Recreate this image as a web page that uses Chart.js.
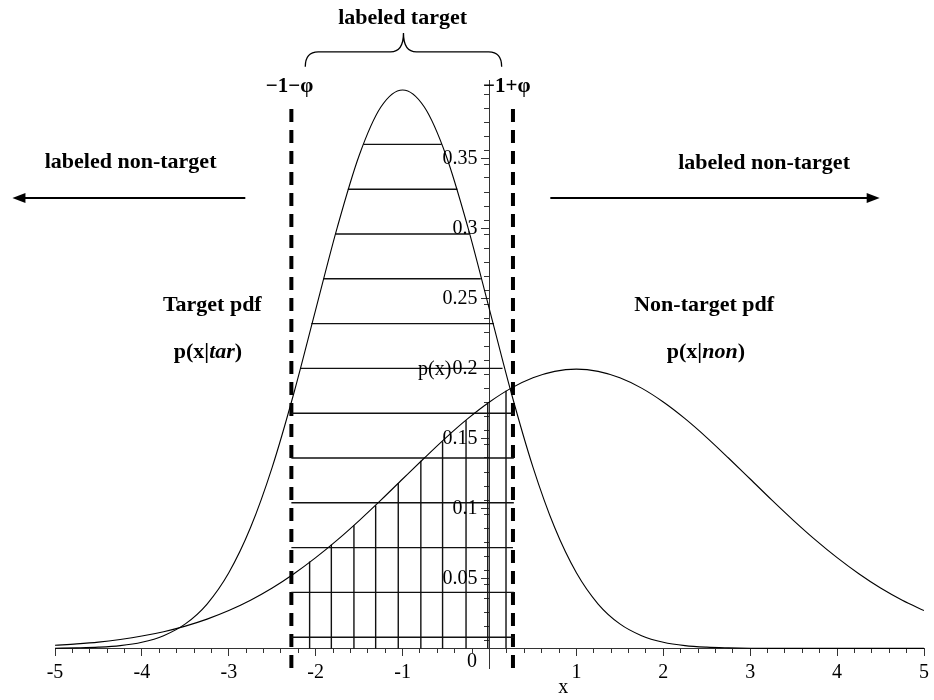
<!DOCTYPE html>
<html lang="en">
<head>
<meta charset="UTF-8" />
<title>Target and non-target pdf</title>
<script src="https://cdn.jsdelivr.net/npm/chart.js"></script>
<style>
  html, body { margin: 0; padding: 0; background: #fff; }
</style>
</head>
<body>
<canvas id="chart" width="934" height="700"></canvas>
<script>
// sample points of the two densities
var xs = [-5, -4.75, -4.5, -4.25, -4, -3.75, -3.5, -3.25, -3, -2.75, -2.5, -2.25, -2, -1.75, -1.5, -1.25,
          -1, -0.75, -0.5, -0.25, 0, 0.25, 0.5, 0.75, 1, 1.25, 1.5, 1.75, 2, 2.25, 2.5, 2.75,
          3, 3.25, 3.5, 3.75, 4, 4.25, 4.5, 4.75, 5];
var targetPdf = [0.0001, 0.0004, 0.0009, 0.002, 0.0044, 0.0091, 0.0175, 0.0317, 0.054, 0.0863, 0.1295, 0.1826,
                 0.242, 0.3011, 0.3521, 0.3867, 0.3989, 0.3867, 0.3521, 0.3011, 0.242, 0.1826, 0.1295, 0.0863,
                 0.054, 0.0317, 0.0175, 0.0091, 0.0044, 0.002, 0.0009, 0.0004, 0.0001, 0, 0, 0, 0, 0, 0, 0, 0];
var nonTargetPdf = [0.0022, 0.0032, 0.0045, 0.0064, 0.0088, 0.0119, 0.0159, 0.0209, 0.027, 0.0344, 0.0431, 0.0533,
                    0.0648, 0.0775, 0.0913, 0.1059, 0.121, 0.136, 0.1506, 0.1641, 0.176, 0.1859, 0.1933, 0.1979,
                    0.1995, 0.1979, 0.1933, 0.1859, 0.176, 0.1641, 0.1506, 0.136, 0.121, 0.1059, 0.0913, 0.0775,
                    0.0648, 0.0533, 0.0431, 0.0344, 0.027];

// decision bounds -1-phi and -1+phi
var boundX = [-2.28, 0.27];
var boundY = [-0.014, 0.388];

// horizontal hatching under the target pdf
var hatchLevels = [0.008, 0.04, 0.072, 0.104, 0.136, 0.168, 0.2, 0.232, 0.264, 0.296, 0.328, 0.36];
var hatchFrom   = [-2.28, -2.28, -2.28, -2.28, -2.28, -2.28, -2.18, -2.05, -1.91, -1.77, -1.63, -1.45];
var hatchTo     = [0.28, 0.28, 0.27, 0.28, 0.28, 0.28, 0.15, 0.05, -0.1, -0.23, -0.37, -0.55];

// vertical hatching under the non-target pdf
var vHatchX   = [-2.07, -1.82, -1.56, -1.31, -1.05, -0.79, -0.54, -0.27, -0.02, 0.19];
var vHatchTop = [0.062, 0.074, 0.088, 0.102, 0.118, 0.134, 0.148, 0.163, 0.175, 0.184];

var xTicks = [-5, -4, -3, -2, -1, 0, 1, 2, 3, 4, 5];
var yTicks = [0.05, 0.1, 0.15, 0.2, 0.25, 0.3, 0.35];

var serif = '"Liberation Serif", "Times New Roman", serif';
var ink = '#000';
var axisInk = '#333';

function pts(xv, yv) {
    return xv.map(function (v, i) { return { x: v, y: yv[i] }; });
}

var hLines = [];
hatchLevels.forEach(function (lv, i) {
    hLines.push({ x: hatchFrom[i], y: lv }, { x: hatchTo[i], y: lv }, { x: hatchTo[i], y: null });
});
var vLines = [];
vHatchX.forEach(function (v, i) {
    vLines.push({ x: v, y: 0 }, { x: v, y: vHatchTop[i] }, { x: v, y: null });
});
var dashLines = [];
boundX.forEach(function (v) {
    dashLines.push({ x: v, y: boundY[0] }, { x: v, y: boundY[1] }, { x: v, y: null });
});

// draws text made of several font runs, centred on (cx, cy)
function runs(ctx, parts, cx, cy) {
    var total = 0;
    parts.forEach(function (p) { ctx.font = p[1]; total += ctx.measureText(p[0]).width; });
    var x0 = cx - total / 2;
    ctx.textAlign = 'left';
    parts.forEach(function (p) {
        ctx.font = p[1];
        ctx.fillText(p[0], x0, cy);
        x0 += ctx.measureText(p[0]).width;
    });
}

function arrow(ctx, x1, x2, y) {
    var dir = x2 > x1 ? 1 : -1;
    ctx.lineWidth = 2;
    ctx.beginPath();
    ctx.moveTo(x1, y);
    ctx.lineTo(x2 - dir * 10, y);
    ctx.stroke();
    ctx.beginPath();
    ctx.moveTo(x2, y);
    ctx.lineTo(x2 - dir * 13, y - 5);
    ctx.lineTo(x2 - dir * 13, y + 5);
    ctx.closePath();
    ctx.fill();
}

var notes = {
    id: 'notes',
    afterDraw: function (chart) {
        var ctx = chart.ctx;
        var sx = chart.scales.x, sy = chart.scales.y;
        var px = function (v) { return sx.getPixelForValue(v); };
        var py = function (v) { return sy.getPixelForValue(v); };
        var bold = '700 22px ' + serif;
        var boldIt = 'italic 700 22px ' + serif;
        var plain = '20px ' + serif;

        ctx.save();
        ctx.fillStyle = ink;
        ctx.strokeStyle = ink;
        ctx.textBaseline = 'middle';

        // y tick labels sit left of the tick marks
        ctx.font = plain;
        ctx.textAlign = 'right';
        yTicks.forEach(function (v) {
            ctx.fillText(String(v), px(0) - 12, py(v));
        });

        runs(ctx, [['labeled target', bold]], px(-1.0), py(0.450));
        runs(ctx, [['labeled non-target', bold]], px(-4.13), py(0.3475));
        runs(ctx, [['labeled non-target', bold]], px(3.16), py(0.3468));
        runs(ctx, [['Target pdf', bold]], px(-3.19), py(0.2454));
        runs(ctx, [['p(x|', bold], ['tar', boldIt], [')', bold]], px(-3.24), py(0.2118));
        runs(ctx, [['Non-target pdf', bold]], px(2.47), py(0.2454));
        runs(ctx, [['p(x|', bold], ['non', boldIt], [')', bold]], px(2.49), py(0.2118));
        runs(ctx, [['\u22121\u2212\u03c6', '700 21px ' + serif]], px(-2.3), py(0.401));
        runs(ctx, [['\u22121+\u03c6', '700 21px ' + serif]], px(0.2), py(0.401));
        runs(ctx, [['p(x)', plain]], px(-0.63), py(0.199));
        runs(ctx, [['0', plain]], px(-0.2), py(-0.0096));
        runs(ctx, [['x', plain]], px(0.85), py(-0.0282));

        arrow(ctx, px(-2.81), px(-5.49), py(0.3218));
        arrow(ctx, px(0.70), px(4.49), py(0.3218));

        // brace over the labeled target region
        var L = px(-2.12), R = px(0.14), C = px(-0.99);
        var t = py(0.4396), m = py(0.4261), e = py(0.4154), r = 13;
        ctx.lineWidth = 1.3;
        ctx.beginPath();
        ctx.moveTo(L, e);
        ctx.quadraticCurveTo(L, m, L + r, m);
        ctx.lineTo(C - r, m);
        ctx.quadraticCurveTo(C, m, C, t);
        ctx.quadraticCurveTo(C, m, C + r, m);
        ctx.lineTo(R - r, m);
        ctx.quadraticCurveTo(R, m, R, e);
        ctx.stroke();
        ctx.restore();
    }
};

function tickAxis(step, len, showLabels, extra) {
    var o = {
        type: 'linear',
        grid: { drawOnChartArea: false, drawTicks: true, tickLength: len, tickColor: axisInk, tickWidth: 1 },
        border: { display: true, color: axisInk, width: 1 },
        ticks: { display: showLabels, stepSize: step, autoSkip: false, color: ink, padding: 5,
                 font: { family: serif, size: 20 } }
    };
    return Object.assign(o, extra);
}

var ctx = document.getElementById('chart').getContext('2d');
var chart = new Chart(ctx, {
    type: 'scatter',
    data: {
        datasets: [
            { data: pts(xs, targetPdf), showLine: true, borderColor: ink, borderWidth: 1.1,
              pointRadius: 0, cubicInterpolationMode: 'monotone' },
            { data: pts(xs, nonTargetPdf), showLine: true, borderColor: ink, borderWidth: 1.1,
              pointRadius: 0, cubicInterpolationMode: 'monotone' },
            { data: hLines, showLine: true, spanGaps: false, borderColor: '#111', borderWidth: 1.4, pointRadius: 0 },
            { data: vLines, showLine: true, spanGaps: false, borderColor: '#111', borderWidth: 1.4, pointRadius: 0 },
            { data: dashLines, showLine: true, spanGaps: false, borderColor: ink, borderWidth: 4,
              borderDash: [13, 8], borderCapStyle: 'butt', pointRadius: 0 }
        ]
    },
    options: {
        responsive: false,
        animation: false,
        layout: { padding: { left: 55, right: 5, top: 80, bottom: 32 } },
        plugins: { legend: { display: false }, tooltip: { enabled: false } },
        scales: {
            x: tickAxis(1, 7, true, {
                min: -5, max: 5, position: { y: 0 },
                afterBuildTicks: function (axis) {
                    axis.ticks = xTicks.map(function (v) { return { value: v }; });
                }
            }),
            xMinor: tickAxis(0.2, 4, false, { min: -5, max: 5, position: { y: 0 } }),
            y: tickAxis(0.05, 8, false, {
                min: -0.014, max: 0.406, position: { x: 0 },
                afterBuildTicks: function (axis) {
                    axis.ticks = yTicks.map(function (v) { return { value: v }; });
                }
            }),
            yMinor: tickAxis(0.01, 5, false, {
                min: -0.014, max: 0.406, position: { x: 0 },
                afterBuildTicks: function (axis) {
                    axis.ticks = axis.ticks.filter(function (t) { return t.value > -0.001 && t.value < 0.4001; });
                }
            })
        }
    },
    plugins: [notes]
});
chart.options.scales.x.ticks.callback = function (v) { return v === 0 ? '' : String(v); };
chart.update();
</script>
</body>
</html>
